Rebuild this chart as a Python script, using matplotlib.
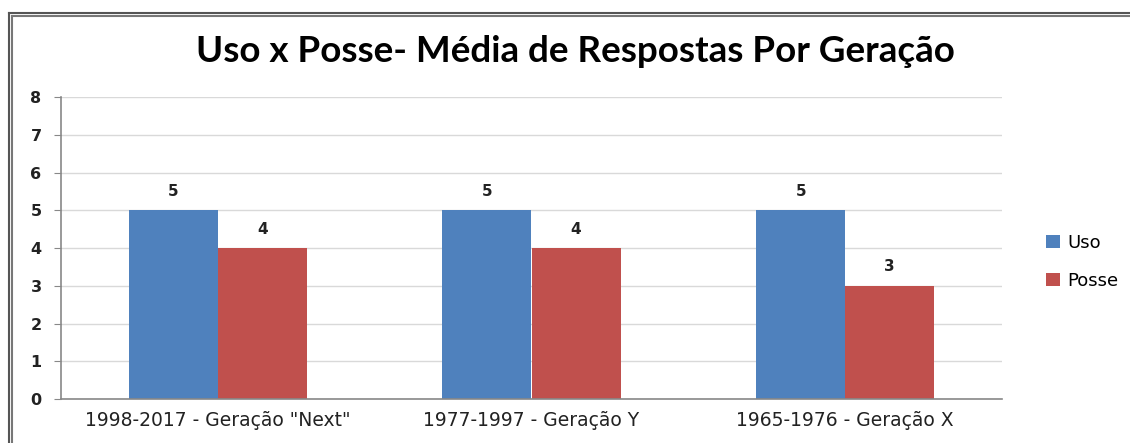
import matplotlib.pyplot as plt
from matplotlib.lines import Line2D
import numpy as np

categorias = ['1998-2017 - Geração "Next"', '1977-1997 - Geração Y', '1965-1976 - Geração X']
uso = [5, 5, 5]
posse = [4, 4, 3]

fig = plt.figure(figsize=(11.3, 4.43), dpi=100)
ax = fig.add_axes([61/1130, 44/443, 941/1130, 302/443])

x = np.arange(len(categorias))
w = 0.284
b1 = ax.bar(x - w/2, uso, w, color='#4f81bd', label='Uso')
b2 = ax.bar(x + w/2, posse, w, color='#c0504d', label='Posse')

for bars in (b1, b2):
    for r in bars:
        ax.text(r.get_x() + r.get_width()/2, r.get_height() + 0.3, str(int(r.get_height())),
                ha='center', va='bottom', fontsize=11, fontweight='bold', color='#222222')

ax.set_xlim(-0.5, 2.5)
ax.set_ylim(0, 8)
ax.set_yticks(range(0, 9))
ax.set_xticks(x)
ax.set_xticklabels(categorias, fontsize=13.5, color='#222222')
ax.tick_params(axis='x', length=0, pad=9)
ax.tick_params(axis='y', length=5, color='#888888', labelsize=11.5, pad=9)
for lab in ax.get_yticklabels():
    lab.set_fontweight('bold')
    lab.set_color('#222222')
ax.grid(axis='y', color='#d9d9d9', linewidth=1)
ax.set_axisbelow(True)
for s in ['top', 'right']:
    ax.spines[s].set_visible(False)
for s in ['left', 'bottom']:
    ax.spines[s].set_color('#888888')
    ax.spines[s].set_linewidth(1.2)

fig.legend(handles=[b1, b2], loc='center left', bbox_to_anchor=(1030/1130, 1 - 262/443),
           frameon=False, fontsize=13, handlelength=0.75, handleheight=0.75,
           labelspacing=1.1, handletextpad=0.4)

fig.text(575/1130, 1 - 51/443, 'Uso x Posse- Média de Respostas Por Geração',
         ha='center', va='center', fontsize=26.5, fontweight='bold', family='Lato')

# moldura dupla
for off, c in [(0, '#555555'), (3, '#777777')]:
    fig.add_artist(Line2D([(9+off)/1130, 1], [1-(13+off)/443]*2, color=c, lw=1.5,
                          transform=fig.transFigure))
    fig.add_artist(Line2D([(9+off)/1130]*2, [0, 1-(13+off)/443], color=c, lw=1.5,
                          transform=fig.transFigure))

fig.savefig('out.png', dpi=100)
